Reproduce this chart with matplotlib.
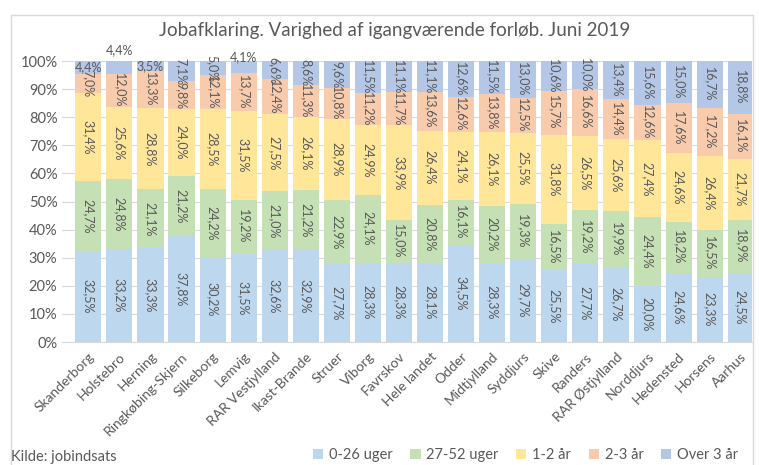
import numpy as np
import matplotlib.pyplot as plt
from matplotlib.patches import Rectangle

plt.rcParams['font.family'] = ['Lato', 'DejaVu Sans']

kommuner = ["Skanderborg", "Holstebro", "Herning", "Ringkøbing-Skjern", "Silkeborg", "Lemvig",
            "RAR Vestjylland", "Ikast-Brande", "Struer", "Viborg", "Favrskov", "Hele landet",
            "Odder", "Midtjylland", "Syddjurs", "Skive", "Randers", "RAR Østjylland",
            "Norddjurs", "Hedensted", "Horsens", "Aarhus"]

uger_0_26 = [32.5, 33.2, 33.3, 37.8, 30.2, 31.5, 32.6, 32.9, 27.7, 28.3, 28.3,
             28.1, 34.5, 28.3, 29.7, 25.5, 27.7, 26.7, 20.0, 24.6, 23.3, 24.5]
uger_27_52 = [24.7, 24.8, 21.1, 21.2, 24.2, 19.2, 21.0, 21.2, 22.9, 24.1, 15.0,
              20.8, 16.1, 20.2, 19.3, 16.5, 19.2, 19.9, 24.4, 18.2, 16.5, 18.9]
aar_1_2 = [31.4, 25.6, 28.8, 24.0, 28.5, 31.5, 27.5, 26.1, 28.9, 24.9, 33.9,
           26.4, 24.1, 26.1, 25.5, 31.8, 26.5, 25.6, 27.4, 24.6, 26.4, 21.7]
aar_2_3 = [7.0, 12.0, 13.3, 9.8, 12.1, 13.7, 12.4, 11.3, 10.8, 11.2, 11.7,
           13.6, 12.6, 13.8, 12.5, 15.7, 16.6, 14.4, 12.6, 17.6, 17.2, 16.1]
over_3 = [4.4, 4.4, 3.5, 7.1, 5.0, 4.1, 6.6, 8.6, 9.6, 11.5, 11.1,
          11.1, 12.6, 11.5, 13.0, 10.6, 10.0, 13.4, 15.6, 15.0, 16.7, 18.8]

serier = [("0-26 uger", uger_0_26, "#BDD7EE"),
          ("27-52 uger", uger_27_52, "#C5E0B4"),
          ("1-2 år", aar_1_2, "#FFE699"),
          ("2-3 år", aar_2_3, "#F8CBAD"),
          ("Over 3 år", over_3, "#B4C7E7")]

tekst = "#595959"

fig = plt.figure(figsize=(7.59, 4.65), dpi=100)
fig.patches.append(Rectangle((0.014, -0.01), 0.978, 0.978, transform=fig.transFigure,
                             fill=False, edgecolor="#D9D9D9", linewidth=1))
ax = fig.add_axes([0.082, 0.2645, 0.909, 0.604])

x = np.arange(len(kommuner))
bund = np.zeros(len(kommuner))
for navn, vals, farve in serier:
    vals = np.array(vals)
    ax.bar(x, vals, 0.84, bottom=bund, color=farve, label=navn, zorder=2)
    for i, v in enumerate(vals):
        lbl = f"{v:.1f}%".replace(".", ",")
        midt = bund[i] + v / 2
        if v < 5:
            # små segmenter: vandret tekst
            y = midt
            if kommuner[i] == "Holstebro":
                y = 104
            elif kommuner[i] == "Lemvig":
                y = 101.3
            ax.text(i, y, lbl, ha="center", va="center", fontsize=9, color=tekst, zorder=3)
        else:
            ax.text(i, midt, lbl, ha="center", va="center", rotation=270,
                    fontsize=9, color=tekst, zorder=3)
    bund += vals

ax.set_ylim(0, 100)
ax.set_xlim(-0.84, 21.37)
ax.set_yticks(np.arange(0, 101, 10))
ax.set_yticklabels([f"{t}%" for t in range(0, 101, 10)], fontsize=10.5, color=tekst)
ax.set_xticks(x)
ax.set_xticklabels(kommuner, rotation=45, ha="right", rotation_mode="anchor",
                   fontsize=10, color=tekst)
ax.tick_params(length=0)
ax.tick_params(axis="x", pad=6)
ax.grid(axis="y", color="#D9D9D9", linewidth=0.8, zorder=0)
for s in ["top", "right", "left"]:
    ax.spines[s].set_visible(False)
ax.spines["bottom"].set_color("#D9D9D9")

fig.text(0.52, 0.935, "Jobafklaring. Varighed af igangværende forløb. Juni 2019",
         ha="center", va="center", fontsize=13.5, color=tekst)
fig.text(0.014, 0.018, "Kilde: jobindsats", ha="left", va="center", fontsize=10.5, color=tekst)

fig.legend(loc="center right", bbox_to_anchor=(0.99, 0.022), ncol=5, frameon=False,
           fontsize=10.5, handlelength=0.7, handleheight=0.7, handletextpad=0.4,
           columnspacing=1.2, labelcolor=tekst)

fig.savefig("out.png", dpi=100)
